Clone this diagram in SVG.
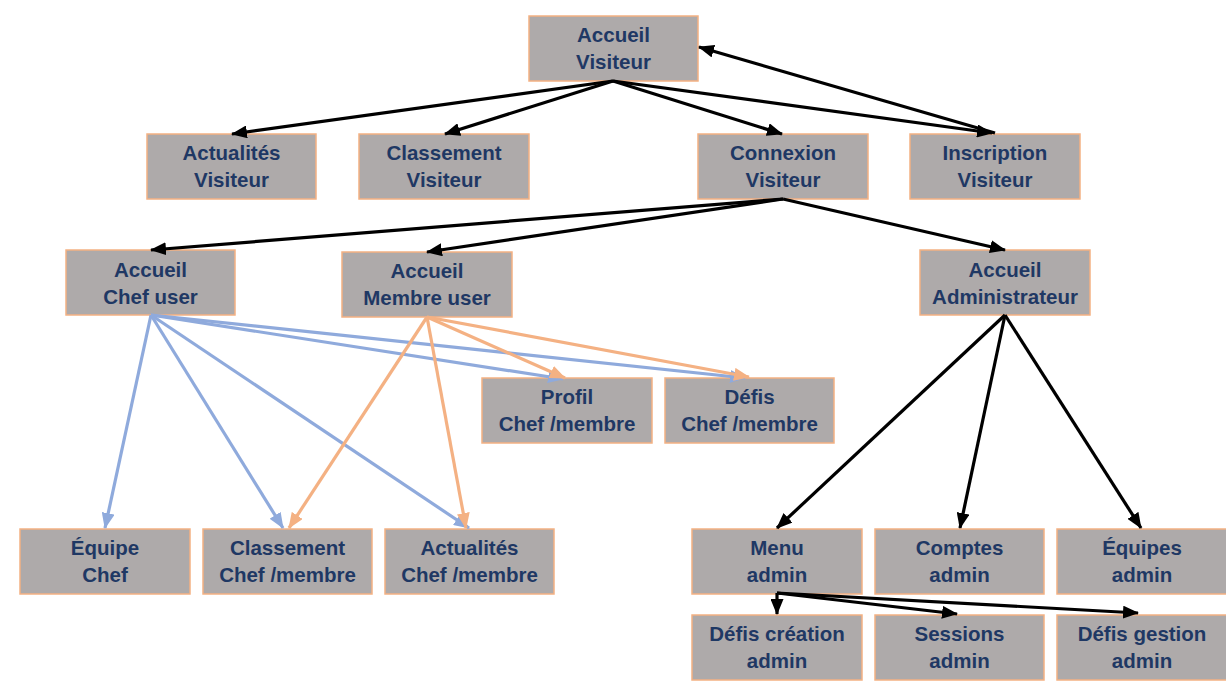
<svg xmlns="http://www.w3.org/2000/svg" width="1226" height="682" viewBox="0 0 1226 682">
<style>
.box{fill:#AEAAAA;stroke:#F4B183;stroke-width:1.5}
.t{font-family:"Liberation Sans",Arial,sans-serif;font-weight:bold;font-size:20.5px;fill:#1F3864;text-anchor:middle}
.k{fill:none;stroke:#000;stroke-width:3.2}
.b{fill:none;stroke:#8FAADC;stroke-width:3.2}
.o{fill:none;stroke:#F4B183;stroke-width:3.2}
</style>
<defs>
<marker id="ak" markerUnits="userSpaceOnUse" markerWidth="16" markerHeight="13" refX="15" refY="6.5" orient="auto"><path d="M0,0 L16,6.5 L0,13 z" fill="#000"/></marker>
<marker id="ab" markerUnits="userSpaceOnUse" markerWidth="16" markerHeight="13" refX="15" refY="6.5" orient="auto"><path d="M0,0 L16,6.5 L0,13 z" fill="#8FAADC"/></marker>
<marker id="ao" markerUnits="userSpaceOnUse" markerWidth="16" markerHeight="13" refX="15" refY="6.5" orient="auto"><path d="M0,0 L16,6.5 L0,13 z" fill="#F4B183"/></marker>
</defs>
<rect width="1226" height="682" fill="#fff"/>

<g id="nodes">
<g id="accueil-visiteur"><rect class="box" x="529" y="16" width="169" height="65"/><text class="t" x="613.5" y="42">Accueil</text><text class="t" x="613.5" y="69">Visiteur</text></g>
<g id="actualites-visiteur"><rect class="box" x="147" y="134" width="169" height="65"/><text class="t" x="231.5" y="160">Actualités</text><text class="t" x="231.5" y="187">Visiteur</text></g>
<g id="classement-visiteur"><rect class="box" x="359" y="134" width="170" height="65"/><text class="t" x="444" y="160">Classement</text><text class="t" x="444" y="187">Visiteur</text></g>
<g id="connexion-visiteur"><rect class="box" x="698" y="134" width="170" height="65"/><text class="t" x="783" y="160">Connexion</text><text class="t" x="783" y="187">Visiteur</text></g>
<g id="inscription-visiteur"><rect class="box" x="910" y="134" width="170" height="65"/><text class="t" x="995" y="160">Inscription</text><text class="t" x="995" y="187">Visiteur</text></g>

<g id="accueil-chef"><rect class="box" x="66" y="250" width="169" height="65"/><text class="t" x="150.5" y="277">Accueil</text><text class="t" x="150.5" y="304">Chef user</text></g>
<g id="accueil-membre"><rect class="box" x="342" y="252" width="170" height="65"/><text class="t" x="427" y="278">Accueil</text><text class="t" x="427" y="305">Membre user</text></g>
<g id="accueil-admin"><rect class="box" x="920" y="250" width="170" height="65"/><text class="t" x="1005" y="277">Accueil</text><text class="t" x="1005" y="304">Administrateur</text></g>

<g id="profil"><rect class="box" x="482" y="378" width="170" height="65"/><text class="t" x="567" y="404">Profil</text><text class="t" x="567" y="431">Chef /membre</text></g>
<g id="defis"><rect class="box" x="665" y="378" width="169" height="65"/><text class="t" x="749.5" y="404">Défis</text><text class="t" x="749.5" y="431">Chef /membre</text></g>

<g id="equipe-chef"><rect class="box" x="20" y="529" width="170" height="65"/><text class="t" x="105" y="555">Équipe</text><text class="t" x="105" y="582">Chef</text></g>
<g id="classement-cm"><rect class="box" x="203" y="529" width="169" height="65"/><text class="t" x="287.5" y="555">Classement</text><text class="t" x="287.5" y="582">Chef /membre</text></g>
<g id="actualites-cm"><rect class="box" x="385" y="529" width="169" height="65"/><text class="t" x="469.5" y="555">Actualités</text><text class="t" x="469.5" y="582">Chef /membre</text></g>

<g id="menu-admin"><rect class="box" x="692" y="529" width="170" height="65"/><text class="t" x="777" y="555">Menu</text><text class="t" x="777" y="582">admin</text></g>
<g id="comptes-admin"><rect class="box" x="875" y="529" width="169" height="65"/><text class="t" x="959.5" y="555">Comptes</text><text class="t" x="959.5" y="582">admin</text></g>
<g id="equipes-admin"><rect class="box" x="1057" y="529" width="170" height="65"/><text class="t" x="1142" y="555">Équipes</text><text class="t" x="1142" y="582">admin</text></g>

<g id="defis-creation"><rect class="box" x="692" y="615" width="170" height="65"/><text class="t" x="777" y="641">Défis création</text><text class="t" x="777" y="668">admin</text></g>
<g id="sessions-admin"><rect class="box" x="875" y="615" width="169" height="65"/><text class="t" x="959.5" y="641">Sessions</text><text class="t" x="959.5" y="668">admin</text></g>
<g id="defis-gestion"><rect class="box" x="1057" y="615" width="170" height="65"/><text class="t" x="1142" y="641">Défis gestion</text><text class="t" x="1142" y="668">admin</text></g>
</g>

<g id="connectors">
<line class="k" x1="613" y1="81" x2="232" y2="134" marker-end="url(#ak)"/>
<line class="k" x1="613" y1="81" x2="445" y2="134" marker-end="url(#ak)"/>
<line class="k" x1="613" y1="81" x2="782" y2="134" marker-end="url(#ak)"/>
<line class="k" x1="613" y1="81" x2="992" y2="133" marker-end="url(#ak)"/>
<line class="k" x1="995" y1="133" x2="699" y2="47" marker-end="url(#ak)"/>

<line class="k" x1="783" y1="199" x2="151" y2="250" marker-end="url(#ak)"/>
<line class="k" x1="783" y1="199" x2="427" y2="252" marker-end="url(#ak)"/>
<line class="k" x1="783" y1="199" x2="1005" y2="250" marker-end="url(#ak)"/>

<line class="b" x1="151" y1="315" x2="105" y2="528" marker-end="url(#ab)"/>
<line class="b" x1="151" y1="315" x2="283" y2="528" marker-end="url(#ab)"/>
<line class="b" x1="151" y1="315" x2="469" y2="528" marker-end="url(#ab)"/>
<line class="b" x1="151" y1="315" x2="563" y2="379" marker-end="url(#ab)"/>
<line class="b" x1="151" y1="315" x2="745" y2="378" marker-end="url(#ab)"/>

<line class="o" x1="427" y1="317" x2="565" y2="378" marker-end="url(#ao)"/>
<line class="o" x1="427" y1="317" x2="749" y2="377" marker-end="url(#ao)"/>
<line class="o" x1="427" y1="317" x2="289" y2="528" marker-end="url(#ao)"/>
<line class="o" x1="427" y1="317" x2="466" y2="528" marker-end="url(#ao)"/>

<line class="k" x1="1005" y1="315" x2="777" y2="528" marker-end="url(#ak)"/>
<line class="k" x1="1005" y1="315" x2="960" y2="528" marker-end="url(#ak)"/>
<line class="k" x1="1005" y1="315" x2="1141" y2="528" marker-end="url(#ak)"/>

<polyline class="k" points="777,593 777,614" marker-end="url(#ak)"/>
<line class="k" x1="777" y1="593" x2="957" y2="614" marker-end="url(#ak)"/>
<line class="k" x1="777" y1="593" x2="1138" y2="613" marker-end="url(#ak)"/>
</g>
</svg>
